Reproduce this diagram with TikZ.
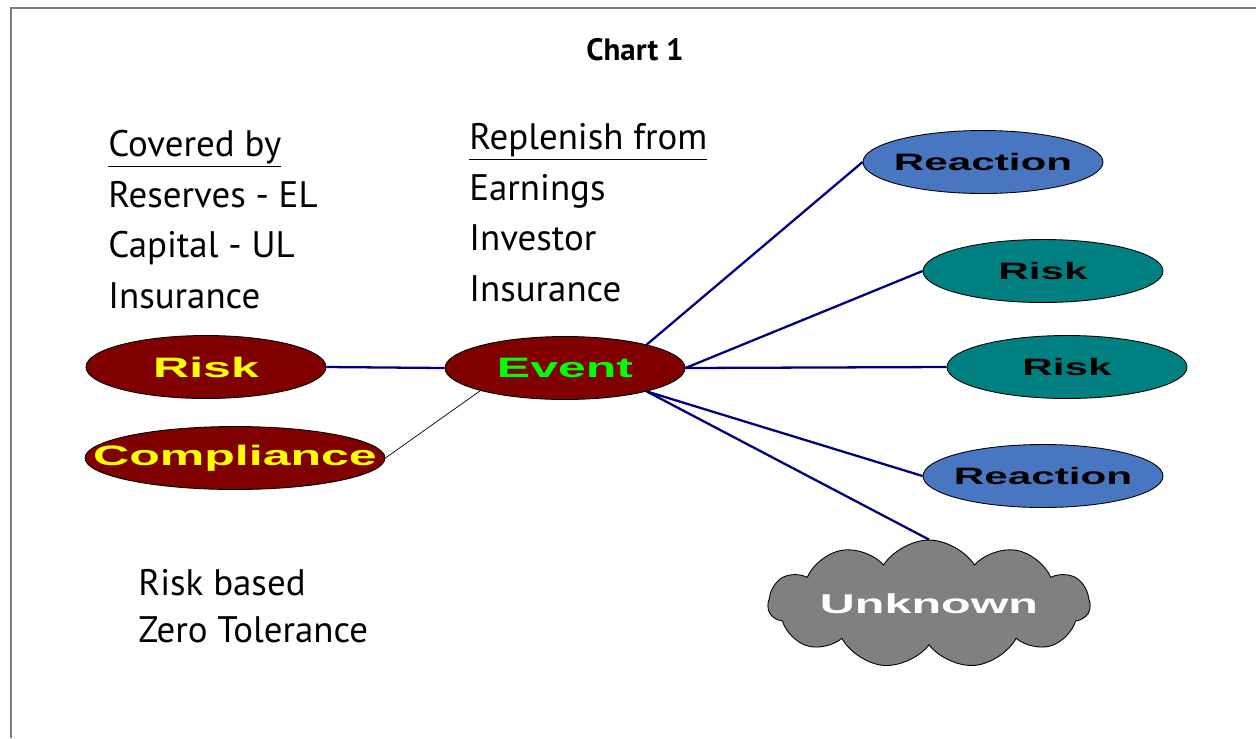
\documentclass[tikz,border=0pt]{standalone}
\usepackage{fontspec}
\setmainfont{PT Sans}
\newfontfamily\widefont[FakeStretch=1.78]{Liberation Sans}
\usepackage{tikz}
\usetikzlibrary{positioning,shapes.geometric,shapes.symbols}
\definecolor{chmaroon}{RGB}{128,  0,  0}
\definecolor{chteal}  {RGB}{  0,128,128}
\definecolor{chblue}  {RGB}{ 72,118,192}
\definecolor{chgray}  {RGB}{128,128,128}
\definecolor{chnavy}  {RGB}{  0,  0,128}
\definecolor{chgreen} {RGB}{  0,255,  0}
\definecolor{chyellow}{RGB}{255,255,  0}
\definecolor{chframe} {RGB}{125,125,125}
\tikzset{
  oval/.style={ellipse,draw=black,line width=0.5pt,inner sep=0pt,
    minimum width=4.8cm,minimum height=1.26cm,
    font=\widefont\bfseries\fontsize{13.5}{15}\selectfont},
  ovalred/.style={oval,fill=chmaroon,text=chyellow,
    font=\widefont\bfseries\fontsize{16}{18}\selectfont},
  ovalteal/.style={oval,fill=chteal,text=black},
  ovalblue/.style={oval,fill=chblue,text=black},
  puff/.style={cloud,cloud puffs=11,cloud puff arc=115,aspect=2.5,
    draw=black,line width=0.5pt,fill=chgray,text=white,inner sep=0pt,
    minimum width=6.44cm,minimum height=2.56cm,
    font=\widefont\bfseries\fontsize{15.5}{17}\selectfont},
  link/.style={draw=chnavy,line width=1.3pt},
  thinlink/.style={draw=black,line width=0.4pt},
  txt/.style={font=\fontsize{21}{28.8}\selectfont,align=left,
    inner sep=0pt,anchor=north west},
}

\begin{document}
\begin{tikzpicture}[x=0.02cm,y=-0.02cm]
  \useasboundingbox (0,0) rectangle (1256,738);
  \draw[chframe,line width=0.8pt] (11,738) -- (11,8) -- (1256,8);

  \node[font=\bfseries\fontsize{17.6}{20}\selectfont](title) at (635,50){Chart 1};

  \node[txt](covered) at (108,130)
    {\underline{Covered by}\\Reserves - EL\\Capital - UL\\Insurance};
  \node[txt](replenish) at (469,123)
    {\underline{Replenish from}\\Earnings\\Investor\\Insurance};
  \node[txt,font=\fontsize{21}{26.7}\selectfont](basis) at (138,569)
    {Risk based\\Zero Tolerance};

  % left side
  \node[ovalred](risk) at (206,367){\makebox[0pt]{Risk}};
  \node[ovalred,minimum width=6cm](comp) at (235,458){\makebox[0pt]{Compliance}};
  \node[ovalred,text=chgreen](event) at (565,368){\makebox[0pt]{Event}};

  % right side
  \node[ovalblue](react1) at (983,162){\makebox[0pt]{Reaction}};
  \node[ovalteal](risk1)  at (1043,271){\makebox[0pt]{Risk}};
  \node[ovalteal](risk2)  at (1067,367){\makebox[0pt]{Risk}};
  \node[ovalblue](react2) at (1043,476){\makebox[0pt]{Reaction}};
  \node[puff](unk) at (929,604){\makebox[0pt]{Unknown}};

  \draw[link](risk.east)--(event.west);
  \draw[thinlink](comp.east)--(event.195);
  \draw[link](event.16)--(react1.west);
  \draw[link](event.east)--(risk1.west);
  \draw[link](event.east)--(risk2.west);
  \draw[link](event.-16)--(react2.west);
  \draw[link](event.-16)--(unk.north);
\end{tikzpicture}
\end{document}
